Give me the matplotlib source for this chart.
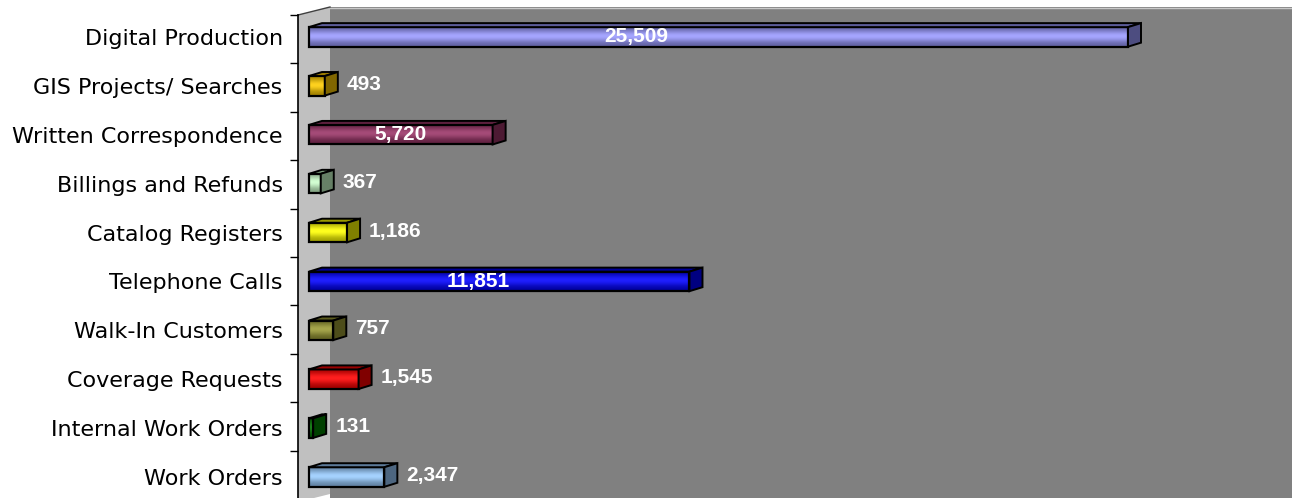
import numpy as np
import matplotlib.pyplot as plt
from matplotlib.colors import to_rgb
from matplotlib.patches import Polygon

# Service counts, bottom category first
categories = ["Work Orders", "Internal Work Orders", "Coverage Requests",
              "Walk-In Customers", "Telephone Calls", "Catalog Registers",
              "Billings and Refunds", "Written Correspondence",
              "GIS Projects/ Searches", "Digital Production"]
values = [2347, 131, 1545, 757, 11851, 1186, 367, 5720, 493, 25509]
colors = ["#99CCFF", "#008000", "#FF0000", "#999933", "#0000FF",
          "#FFFF00", "#CCFFCC", "#993366", "#FFCC00", "#9999FF"]

# labels that sit inside the bar, with their position along the bar
inside_pos = {"Digital Production": 0.40, "Telephone Calls": 0.445,
              "Written Correspondence": 0.50}

W, H = 1292, 498
fig = plt.figure(figsize=(W / 100, H / 100), dpi=100)

# walls drawn in pixel space behind the plot
bg = fig.add_axes([0, 0, 1, 1])
bg.set_xlim(0, W)
bg.set_ylim(H, 0)
bg.axis("off")
bg.add_patch(Polygon([(330, 7), (W, 7), (W, H), (330, H)], closed=True,
                     facecolor="#808080", edgecolor="none"))
bg.add_patch(Polygon([(298, 15), (330, 7), (330, 494), (298, 502)], closed=True,
                     facecolor="#C0C0C0", edgecolor="none"))
bg.plot([330, W], [7.5, 7.5], color="#C8C8C8", lw=1)
bg.plot([298, 330], [15, 7], color="#404040", lw=1)

# main axes: value 0 sits 11 px right of the axis line
ax_left, ax_w = 298, 994
ax_top, ax_h = 15, 486
ax = fig.add_axes([ax_left / W, (H - ax_top - ax_h) / H, ax_w / W, ax_h / H])
ax.set_facecolor("none")
px_per_val = 819 / 25509
x0 = -11 / px_per_val
ax.set_xlim(x0, x0 + ax_w / px_per_val)
px_per_cat = 48.9
row0 = 477  # pixel row of the bottom bar
ax.set_ylim(-(ax_top + ax_h - row0) / px_per_cat, (row0 - ax_top) / px_per_cat)

dx = 13 / px_per_val      # bar depth to the right
dy = 4 / px_per_cat       # bar depth upwards
h = 0.40


def shade(c, k):
    return np.clip(np.array(to_rgb(c)) * k, 0, 1)


def lighten(c, k):
    c = np.array(to_rgb(c))
    return np.clip(c + (1 - c) * k, 0, 1)


for i, (name, v, c) in enumerate(zip(categories, values, colors)):
    yb = i - h / 2
    yt = yb + h
    # vertical gradient on the front face: darker rims, light middle
    t = np.linspace(0, 1, 40)
    prof = np.exp(-((t - 0.55) / 0.3) ** 2)
    grad = np.array([shade(c, 0.62) * (1 - p) + lighten(c, 0.12) * p for p in prof])
    ax.imshow(grad[:, None, :], extent=(0, v, yb, yt), origin="lower",
              aspect="auto", interpolation="bilinear", zorder=3)
    ax.add_patch(Polygon([(0, yb), (v, yb), (v, yt), (0, yt)], closed=True,
                         facecolor="none", edgecolor="black", lw=1.6, zorder=4))
    # top face
    ax.add_patch(Polygon([(0, yt), (v, yt), (v + dx, yt + dy), (dx, yt + dy)],
                         closed=True, facecolor=shade(c, 0.6), edgecolor="black",
                         lw=1.4, zorder=4))
    # right side face
    ax.add_patch(Polygon([(v, yb), (v + dx, yb + dy), (v + dx, yt + dy), (v, yt)],
                         closed=True, facecolor=shade(c, 0.5), edgecolor="black",
                         lw=1.4, zorder=4))

    label = f"{v:,}"
    if name in inside_pos:
        ax.text(v * inside_pos[name], i, label, ha="center", va="center",
                color="white", fontsize=15, fontweight="bold",
                family="Liberation Sans", zorder=5)
    else:
        ax.annotate(label, (v + dx, i + 0.03), xytext=(6.5, 0),
                    textcoords="offset points", ha="left", va="center",
                    color="white", fontsize=15, fontweight="bold",
                    family="Liberation Sans", zorder=5)

ax.set_xticks([])
ax.set_yticks(range(len(categories)))
ax.set_yticklabels(categories, fontsize=16, family="DejaVu Sans")
# category boundary ticks, 48.4 px apart from the top of the axis
ax.set_yticks([(row0 - (ax_top + 48.4 * k)) / px_per_cat for k in range(11)],
              minor=True)
ax.tick_params(axis="y", which="major", length=0, pad=11)
ax.tick_params(axis="y", which="minor", length=5.8, width=1, color="black")
for s in ["top", "right", "bottom"]:
    ax.spines[s].set_visible(False)
ax.spines["left"].set_linewidth(1.2)

fig.savefig("out.png", dpi=100)
